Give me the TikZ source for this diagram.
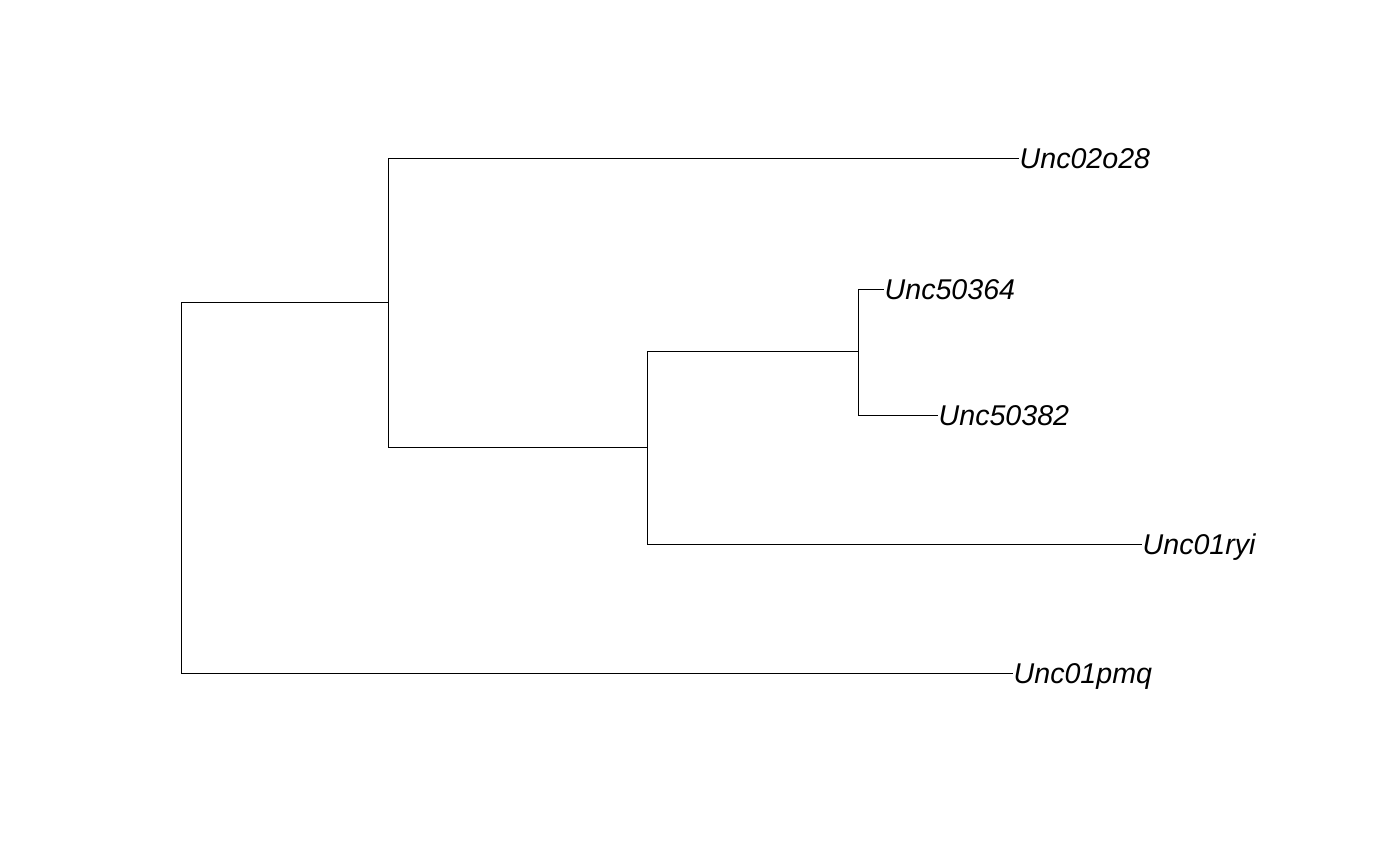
\documentclass[tikz,border=0pt]{standalone}
\usepackage{fontspec}
\setmainfont{Liberation Sans}
\begin{document}
\begin{tikzpicture}[x=1pt,y=-1pt,
  edge/.style={draw=black,line width=1pt,line cap=rect},
  leaf/.style={anchor=base west,inner sep=0pt,font=\fontsize{28.6}{32}\selectfont\itshape,xshift=1.5pt,yshift=-10pt}]
\useasboundingbox (0,0) rectangle (1400,865);
% internal nodes
\coordinate (r) at (181,488);
\coordinate (n1) at (388,302);
\coordinate (n2) at (647,447);
\coordinate (n3) at (858,351);
% tips
\coordinate (t1) at (1018,158);
\coordinate (t2) at (883,289);
\coordinate (t3) at (937,415);
\coordinate (t4) at (1141,544);
\coordinate (t5) at (1012,673);
% labels
\node[leaf] (l1) at (t1) {Unc02o28};
\node[leaf] (l2) at (t2) {Unc50364};
\node[leaf] (l3) at (t3) {Unc50382};
\node[leaf] (l4) at (t4) {Unc01ryi};
\node[leaf] (l5) at (t5) {Unc01pmq};
% edges
\draw[edge] (r |- n1) -- (r |- t5);
\draw[edge] (r |- n1) -- (n1);
\draw[edge] (r |- t5) -- (t5);
\draw[edge] (n1 |- t1) -- (n1 |- n2);
\draw[edge] (n1 |- t1) -- (t1);
\draw[edge] (n1 |- n2) -- (n2);
\draw[edge] (n2 |- n3) -- (n2 |- t4);
\draw[edge] (n2 |- t4) -- (t4);
\draw[edge] (n2 |- n3) -- (n3);
\draw[edge] (n3 |- t2) -- (n3 |- t3);
\draw[edge] (n3 |- t2) -- (t2);
\draw[edge] (n3 |- t3) -- (t3);
\end{tikzpicture}
\end{document}
